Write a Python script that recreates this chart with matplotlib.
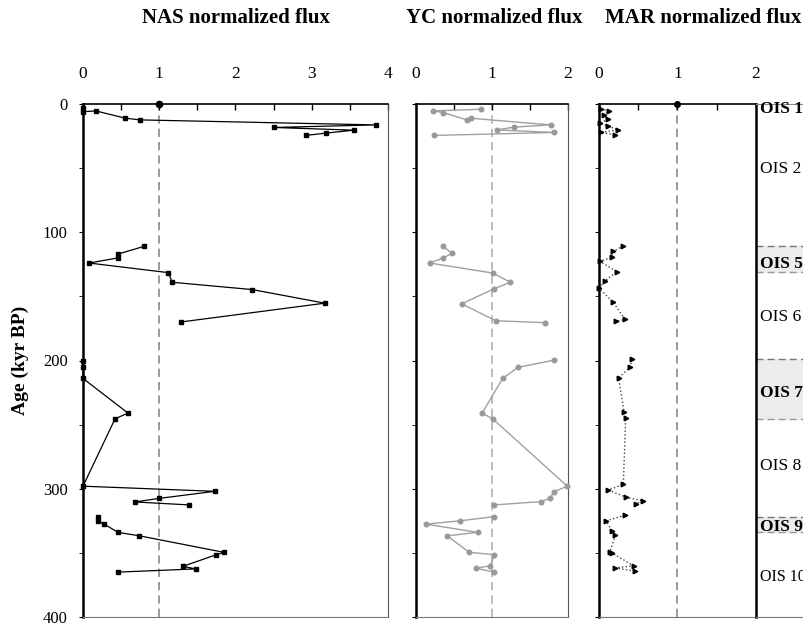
import matplotlib
matplotlib.use('Agg')

import matplotlib.pyplot as plt
import numpy as np

nan = np.nan

# NAS normalized flux (black squares)
nas_age = [3.5, 6, 5.4, 11, 12.4, 16.3, 18.3, 20.4, 22.7, 24.5, nan,
           111, 117, 120, 124, 131.5, 139, 144.7, 155.3, 170, nan,
           200, 205, 214, 241, 245.5, 298, 302, 307.5, 310.3, 312.6, nan,
           321.7, 325, 327.7, 334, 336.7, 349.6, 351.4, 360.5, 362.5, 365]
nas_flux = [0, 0, 0.17, 0.55, 0.75, 3.84, 2.5, 3.55, 3.19, 2.92, nan,
            0.8, 0.46, 0.46, 0.08, 1.12, 1.17, 2.22, 3.17, 1.28, nan,
            0, 0, 0, 0.59, 0.42, 0, 1.73, 1.0, 0.68, 1.39, nan,
            0.2, 0.2, 0.28, 0.46, 0.74, 1.85, 1.75, 1.31, 1.48, 0.46]

# YC normalized flux (grey circles)
yc_age = [4.1, 5.4, 6.7, 12.4, 11.1, 16.3, 18, 20.2, 22.2, 24.5, nan,
          111, 116.5, 120, 124, 131.8, 139, 144, 155.8, 169, 170.5, nan,
          199.7, 205.4, 214, 241, 245.5, 298, 302.3, 307.5, 310, 312.6, nan,
          321.7, 325, 327.6, 334, 336.7, 349.6, 351.4, 360, 362, 365]
yc_flux = [0.86, 0.22, 0.36, 0.67, 0.72, 1.77, 1.29, 1.07, 1.82, 0.24, nan,
           0.36, 0.47, 0.36, 0.18, 1.01, 1.24, 1.03, 0.6, 1.05, 1.70, nan,
           1.82, 1.34, 1.14, 0.87, 1.01, 1.99, 1.82, 1.76, 1.65, 1.03, nan,
           1.03, 0.58, 0.13, 0.81, 0.41, 0.70, 1.03, 0.98, 0.79, 1.03]

# MAR normalized flux (black triangles)
mar_age = [4, 5.2, 8.5, 11.9, 15, 17, 20.2, 22.2, 24, nan,
           110.6, 115, 119.6, 122.7, 130.8, 137.7, 143.6, 154.5, 168, 169.5, nan,
           199, 205, 213.5, 240.3, 244.5, 296.6, 301, 306.5, 309.5, 311.6, nan,
           320.7, 325, 333.3, 336, 349, 350.4, 360, 361.7, 364.3]
mar_flux = [0.02, 0.13, 0.06, 0.12, 0.01, 0.11, 0.24, 0.02, 0.21, nan,
            0.31, 0.18, 0.16, 0.01, 0.23, 0.08, 0.0, 0.18, 0.33, 0.22, nan,
            0.42, 0.40, 0.25, 0.32, 0.34, 0.31, 0.12, 0.34, 0.56, 0.47, nan,
            0.33, 0.09, 0.17, 0.21, 0.14, 0.17, 0.44, 0.21, 0.46]

# isotope stages
ois_labels = ['OIS 1', 'OIS 2', 'OIS 5', 'OIS 6', 'OIS 7', 'OIS 8', 'OIS 9', 'OIS 10']
ois_age = [4, 51, 125, 166, 225.6, 282, 330, 369]
ois_bold = [True, False, True, False, True, False, True, False]
warm_top = [110.6, 199, 321.7]
warm_bottom = [131, 245.5, 334]

plt.rcParams['font.family'] = ['Liberation Serif', 'DejaVu Serif']

W, H = 804, 628
fig = plt.figure(figsize=(W / 100, H / 100), dpi=100)


def box(left, right, top=104, bottom=617):
    return [left / W, 1 - bottom / H, (right - left) / W, (bottom - top) / H]


def style_panel(ax, xmax, ylabels=False):
    ax.set_ylim(400, 0)
    ax.set_xlim(0, xmax)
    ax.xaxis.tick_top()
    ax.set_xticks(np.arange(0, xmax + 0.01, 1))
    ax.set_xticks(np.arange(0.5, xmax, 1), minor=True)
    ax.tick_params(axis='x', which='both', direction='in', length=4, pad=16,
                   labelsize=12.5, width=1)
    ax.set_yticks(np.arange(0, 401, 100))
    ax.set_yticks(np.arange(50, 400, 100), minor=True)
    ax.tick_params(axis='y', which='both', direction='out', length=3, pad=8,
                   labelsize=12, labelleft=ylabels)
    ax.spines['left'].set_linewidth(1.8)
    ax.spines['top'].set_linewidth(1.2)
    ax.spines['right'].set_color('#555555')
    ax.spines['bottom'].set_color('#777777')
    ax.axvline(1, color='#8a8a8a', lw=1.2, ls=(0, (5, 3)), zorder=1)


ax_nas = fig.add_axes(box(83, 388))
ax_yc = fig.add_axes(box(416, 568))
ax_mar = fig.add_axes(box(599, 756))
ax_ois = fig.add_axes(box(756, 816))

style_panel(ax_nas, 4, ylabels=True)
style_panel(ax_yc, 2)
style_panel(ax_mar, 2)
ax_yc.lines[0].set_color('#b0b0b0')

ax_nas.plot(nas_flux, nas_age, color='black', lw=0.9, marker='s', ms=3.3,
            clip_on=False, zorder=3)
ax_nas.plot([1], [0], 'o', color='black', ms=4.5, clip_on=False, zorder=4)

ax_yc.plot(yc_flux, yc_age, color='#a0a0a0', lw=1.0, marker='o', ms=3.3,
           mfc='#999999', mec='#999999', clip_on=False, zorder=3)

ax_mar.plot(mar_flux, mar_age, color='#444444', lw=1.0, ls=':', marker='>',
            ms=3.3, mfc='black', mec='black', clip_on=False, zorder=3)
ax_mar.plot([1], [0], 'o', color='black', ms=4, clip_on=False, zorder=4)

ax_nas.set_ylabel('Age (kyr BP)', fontsize=14, fontweight='bold', labelpad=10)

# OIS column
ax_ois.set_xlim(0, 1)
ax_ois.set_ylim(400, 0)
ax_ois.set_xticks([])
ax_ois.set_yticks([])
ax_ois.spines['left'].set_linewidth(1.8)
ax_ois.spines['top'].set_color('#888888')
ax_ois.spines['bottom'].set_color('#777777')
for t, b in zip(warm_top, warm_bottom):
    ax_ois.axhspan(t, b, color='#ececec', zorder=0)
    ax_ois.axhline(t, color='#777777', lw=1.0, ls=(0, (5, 3)))
    ax_ois.axhline(b, color='#999999', lw=1.0, ls=(0, (5, 3)))
for lab, age, bold in zip(ois_labels, ois_age, ois_bold):
    size = 11.5 if lab == 'OIS 10' else 12.5
    ax_ois.text(0.06, age, lab, fontsize=size, va='center', ha='left',
                fontweight='bold' if bold else 'normal', clip_on=False)

# panel titles
fig.text(236 / W, 1 - 18 / H, 'NAS normalized flux', fontsize=15,
         fontweight='bold', ha='center', va='center')
fig.text(494 / W, 1 - 18 / H, 'YC normalized flux', fontsize=15,
         fontweight='bold', ha='center', va='center')
fig.text(703 / W, 1 - 18 / H, 'MAR normalized flux', fontsize=15,
         fontweight='bold', ha='center', va='center')

fig.savefig('out.png', dpi=100)
